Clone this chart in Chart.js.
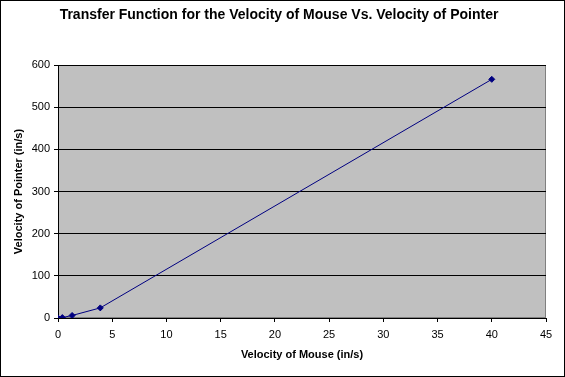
<!DOCTYPE html>
<html><head><meta charset="utf-8">
<script src="https://cdn.jsdelivr.net/npm/chart.js@4"></script>
<style>html,body{margin:0;padding:0;background:#fff}#c{display:block}</style>
</head><body>
<div style="width:565px;height:377px"><canvas id="c" width="565" height="377"></canvas></div>
<script>
const mouseVelocity = [0, 0.4, 1.3, 3.9, 40];
const pointerVelocity = [0, 1, 6, 24, 566];
const xTicks = [0,5,10,15,20,25,30,35,40,45];
const yTicks = [0,100,200,300,400,500,600];
const chartTitle = 'Transfer Function for the Velocity of Mouse Vs. Velocity of Pointer';
const xTitle = 'Velocity of Mouse (in/s)';
const yTitle = 'Velocity of Pointer (in/s)';

const pts = mouseVelocity.map((x,i)=>({x, y: pointerVelocity[i]}));

const bgPlugin = {
  id:'bg',
  beforeDraw(chart){
    const {ctx, chartArea:a} = chart;
    ctx.save();
    ctx.fillStyle='#fff'; ctx.fillRect(0,0,chart.width,chart.height);
    ctx.fillStyle='#c0c0c0'; ctx.fillRect(a.left,a.top,a.right-a.left,a.bottom-a.top);
    ctx.strokeStyle='#808080'; ctx.lineWidth=1;
    ctx.strokeRect(a.left+0.5,a.top+0.5,a.right-a.left-1,a.bottom-a.top-1);
    ctx.restore();
  },
  afterDraw(chart){
    const {ctx}=chart;
    ctx.save(); ctx.strokeStyle='#000'; ctx.lineWidth=1;
    ctx.strokeRect(0.5,0.5,chart.width-1,chart.height-1);
    ctx.restore();
  }
};

new Chart(document.getElementById('c'), {
  type:'scatter',
  data:{datasets:[{data:pts, showLine:true, borderColor:'#000080', backgroundColor:'#000080', borderWidth:1, pointStyle:'rectRot', pointRadius:3, pointHoverRadius:3}]},
  options:{
    responsive:false, animation:false, devicePixelRatio:1,
    layout:{padding:{left:12,right:19,top:0,bottom:15}},
    plugins:{
      legend:{display:false}, tooltip:{enabled:false},
      title:{display:true, text:chartTitle, color:'#000', font:{family:'Arial, Liberation Sans', size:14, weight:'bold'}, padding:{top:7,bottom:41.2}}
    },
    scales:{
      x:{type:'linear', min:0, max:45,
        afterBuildTicks(s){s.ticks = xTicks.map(v=>({value:v}));},
        afterFit(s){s.height=44;},
        grid:{drawOnChartArea:false, drawTicks:true, tickLength:4, color:'#000', tickColor:'#000'},
        border:{color:'#000', width:1},
        ticks:{color:'#000', font:{family:'Arial, Liberation Sans', size:11}, padding:6, maxRotation:0},
        title:{display:true, text:xTitle, color:'#000', font:{family:'Arial, Liberation Sans', size:11, weight:'bold'}, padding:{top:4,bottom:0}}
      },
      y:{type:'linear', min:0, max:600,
        afterBuildTicks(s){s.ticks = yTicks.map(v=>({value:v}));},
        afterFit(s){s.width=46;},
        grid:{drawOnChartArea:true, drawTicks:true, tickLength:4, color:'#000', tickColor:'#000'},
        border:{color:'#000', width:1},
        ticks:{color:'#000', font:{family:'Arial, Liberation Sans', size:11}, padding:4},
        title:{display:true, text:yTitle, color:'#000', font:{family:'Arial, Liberation Sans', size:11, weight:'bold'}, padding:{top:0,bottom:4}}
      }
    }
  },
  plugins:[bgPlugin]
});
</script>
</body></html>
